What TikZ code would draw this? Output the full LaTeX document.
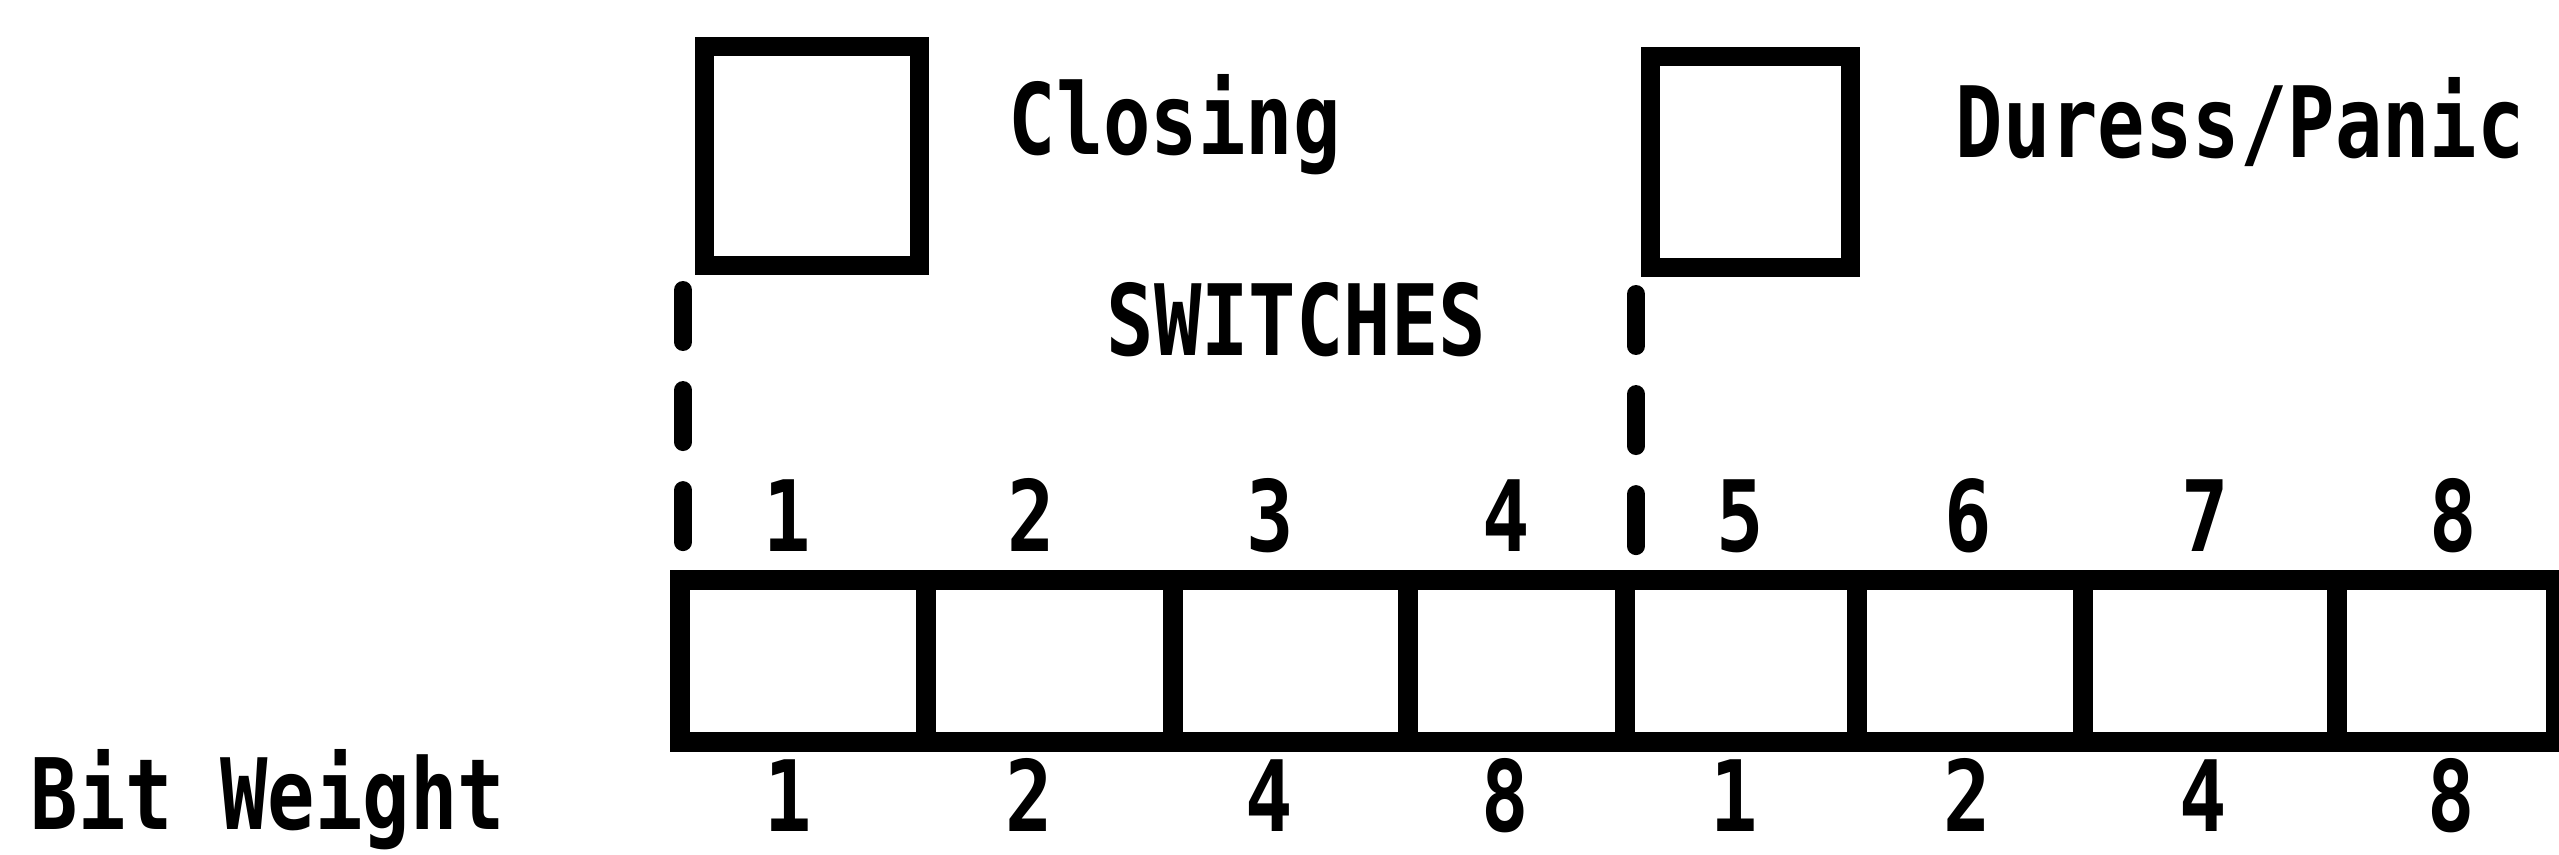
\documentclass[tikz,border=0pt]{standalone}
\usepackage{fontspec}
\setmainfont{DejaVu Sans Mono}[FakeStretch=0.8]
\begin{document}
\begin{tikzpicture}[x=0.01cm,y=-0.01cm,
  lbl/.style={font=\fontsize{28}{30}\selectfont\bfseries, inner sep=0pt, anchor=base west},
  num/.style={font=\fontsize{28}{30}\selectfont\bfseries, inner sep=0pt, anchor=base, text depth=0pt},
  swbox/.style={draw, line width=5.4pt, inner sep=0pt, rectangle},
  cell/.style={draw, line width=5.7pt, inner sep=0pt, rectangle, minimum height=162*0.01cm},
  dashline/.style={line width=5.1pt, line cap=round, dash pattern=on 0.52cm off 0.48cm}]
\useasboundingbox (0,0) rectangle (2559,855);
% top switch boxes
\node[swbox, minimum width=215*0.01cm, minimum height=219*0.01cm] (sw1) at (812,156) {};
\node[swbox, minimum width=200*0.01cm, minimum height=211*0.01cm] (sw2) at (1750.5,162) {};
\node[lbl] (closing) at (1008,155) {Closing};
\node[lbl] (duress) at (1955,158) {Duress/Panic};
\node[lbl] (switches) at (1106,356) {SWITCHES};
% dashed guide lines
\coordinate (d1a) at (683,290);
\coordinate (d1b) at (683,546);
\coordinate (d2a) at (1636,294);
\coordinate (d2b) at (1636,548);
\draw[dashline] (d1a) -- (d1b);
\draw[dashline] (d2a) -- (d2b);
% row of cells
\node[cell, minimum width=246*0.01cm] (c1) at (803,661) {};
\node[cell, minimum width=247*0.01cm] (c2) at (1049.5,661) {};
\node[cell, minimum width=235*0.01cm] (c3) at (1290.5,661) {};
\node[cell, minimum width=217*0.01cm] (c4) at (1516.5,661) {};
\node[cell, minimum width=232*0.01cm] (c5) at (1741,661) {};
\node[cell, minimum width=226*0.01cm] (c6) at (1970,661) {};
\node[cell, minimum width=254*0.01cm] (c7) at (2210,661) {};
\node[cell, minimum width=219*0.01cm] (c8) at (2446.5,661) {};
% switch numbers
\node[num] (n1) at (787,552) {1};
\node[num] (n2) at (1031,552) {2};
\node[num] (n3) at (1270,552) {3};
\node[num] (n4) at (1506,552) {4};
\node[num] (n5) at (1740,552) {5};
\node[num] (n6) at (1968,552) {6};
\node[num] (n7) at (2205,552) {7};
\node[num] (n8) at (2453,552) {8};
% bit weights
\node[lbl] (bw) at (30,830) {Bit Weight};
\node[num] (b1) at (788,832) {1};
\node[num] (b2) at (1029,832) {2};
\node[num] (b3) at (1269,832) {4};
\node[num] (b4) at (1505,832) {8};
\node[num] (b5) at (1734,832) {1};
\node[num] (b6) at (1967,832) {2};
\node[num] (b7) at (2203,832) {4};
\node[num] (b8) at (2451,832) {8};
\end{tikzpicture}
\end{document}
